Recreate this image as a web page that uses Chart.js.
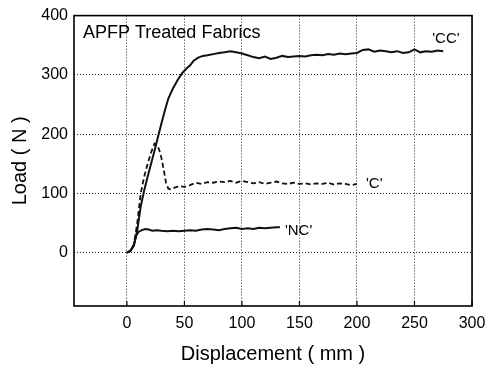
<!DOCTYPE html>
<html>
<head>
<meta charset="utf-8">
<script src="https://cdn.jsdelivr.net/npm/chart.js@4/dist/chart.umd.min.js"></script>
<style>
  html, body { margin: 0; padding: 0; background: #fff; }
  #wrap { width: 494px; height: 367px; }
</style>
</head>
<body>
<div id="wrap"><canvas id="chart"></canvas></div>
<script>
// displacement (mm) / load (N)
const ccX = [0, 3, 6, 9, 12, 15, 18, 21, 24, 27, 30, 33, 36, 40, 44, 48, 52, 55, 58, 62, 66, 70, 75, 80, 85, 90, 95, 100, 105, 110, 115, 120, 125, 130, 135, 140, 145, 150, 155, 160, 165, 170, 175, 180, 185, 190, 195, 200, 205, 210, 215, 220, 225, 230, 235, 240, 245, 250, 255, 260, 265, 270, 275];
const ccY = [0, 3, 12, 38, 78, 105, 128, 150, 172, 195, 218, 240, 260, 277, 291, 303, 311, 316, 324, 329, 332, 333, 335, 337, 338, 340, 338, 336, 333, 330, 328, 331, 327, 329, 332, 330, 331, 332, 331, 333, 334, 333, 335, 334, 336, 335, 336, 337, 342, 343, 339, 341, 340, 338, 340, 337, 338, 343, 338, 340, 339, 341, 340];

const cX = [0, 3, 6, 9, 12, 15, 18, 21, 24, 26, 28, 30, 32, 34, 36, 38, 42, 46, 50, 55, 60, 65, 70, 75, 80, 85, 90, 95, 100, 105, 110, 115, 120, 125, 130, 135, 140, 145, 150, 155, 160, 165, 170, 175, 180, 185, 190, 195, 200];
const cY = [0, 3, 14, 50, 100, 128, 150, 169, 184, 182, 174, 160, 140, 118, 108, 107, 110, 112, 111, 114, 118, 116, 119, 118, 120, 119, 121, 118, 121, 119, 117, 119, 116, 118, 120, 117, 116, 118, 116, 117, 115, 117, 116, 118, 115, 117, 116, 114, 116];

const ncX = [0, 3, 6, 8, 10, 13, 16, 19, 22, 26, 30, 35, 40, 45, 50, 55, 60, 65, 70, 75, 80, 85, 90, 95, 100, 105, 110, 115, 120, 125, 130, 133];
const ncY = [0, 3, 12, 28, 35, 38, 40, 39, 37, 38, 37, 36, 37, 36, 37, 38, 37, 39, 40, 39, 38, 40, 41, 42, 40, 41, 40, 42, 41, 42, 43, 43];

const xTicks = [0, 50, 100, 150, 200, 250, 300];
const yTicks = [0, 100, 200, 300, 400];
const curveNames = ["'CC'", "'C'", "'NC'"];

const FONT = '"Liberation Sans", Arial, sans-serif';

function pts(xs, ys) {
  return xs.map(function (x, i) { return { x: x, y: ys[i] }; });
}

const tags = [
  { ds: 0, dx: -11, dy: -12 },
  { ds: 1, dx: 9, dy: 0 },
  { ds: 2, dx: 5, dy: 4 }
];

const framePlugin = {
  id: 'frame',
  afterDraw(chart) {
    const { ctx, chartArea: a, scales } = chart;
    ctx.save();
    ctx.strokeStyle = '#000';
    ctx.lineWidth = 1.6;
    ctx.strokeRect(a.left, a.top, a.right - a.left, a.bottom - a.top);
    // small inside ticks along the bottom
    ctx.lineWidth = 1.2;
    xTicks.forEach(function (v) {
      const px = scales.x.getPixelForValue(v);
      ctx.beginPath();
      ctx.moveTo(px, a.bottom);
      ctx.lineTo(px, a.bottom - 5);
      ctx.stroke();
    });
    ctx.fillStyle = '#000';
    ctx.font = '18px ' + FONT;
    ctx.textBaseline = 'middle';
    ctx.textAlign = 'left';
    ctx.fillText('APFP Treated Fabrics', a.left + 9, a.top + 17);
    ctx.font = '15px ' + FONT;
    tags.forEach(function (t) {
      const meta = chart.getDatasetMeta(t.ds);
      const last = meta.data[meta.data.length - 1];
      ctx.fillText(curveNames[t.ds], last.x + t.dx, last.y + t.dy);
    });
    ctx.restore();
  }
};

new Chart(document.getElementById('chart'), {
  type: 'scatter',
  data: {
    datasets: [
      { label: curveNames[0], data: pts(ccX, ccY), showLine: true, borderColor: '#111', borderWidth: 2, pointRadius: 0, tension: 0 },
      { label: curveNames[1], data: pts(cX, cY), showLine: true, borderColor: '#111', borderWidth: 1.8, borderDash: [5, 3], pointRadius: 0, tension: 0 },
      { label: curveNames[2], data: pts(ncX, ncY), showLine: true, borderColor: '#111', borderWidth: 2, pointRadius: 0, tension: 0 }
    ]
  },
  options: {
    responsive: true,
    maintainAspectRatio: false,
    animation: false,
    layout: { padding: { left: 0, right: 22, top: 14, bottom: 0 } },
    plugins: { legend: { display: false }, tooltip: { enabled: false } },
    scales: {
      x: {
        type: 'linear', min: -46, max: 300,
        afterBuildTicks: function (s) { s.ticks = xTicks.map(function (v) { return { value: v }; }); },
        afterFit: function (s) { s.height = 61; },
        grid: { color: '#222', lineWidth: 1, drawTicks: false, tickBorderDash: [1, 2] },
        border: { display: false, dash: [1, 2] },
        ticks: { color: '#000', padding: 8, maxRotation: 0, font: { family: FONT, size: 16 } },
        title: { display: true, text: 'Displacement ( mm )', color: '#000', padding: { top: 0, bottom: 1 }, font: { family: FONT, size: 20 } }
      },
      y: {
        type: 'linear', min: -90, max: 400,
        afterBuildTicks: function (s) { s.ticks = yTicks.map(function (v) { return { value: v }; }); },
        afterFit: function (s) { s.width = 74; },
        grid: { color: '#222', lineWidth: 1, drawTicks: false },
        border: { display: false, dash: [1, 2] },
        ticks: { color: '#000', padding: 6, font: { family: FONT, size: 16 } },
        title: { display: true, text: 'Load ( N )', color: '#000', padding: { top: 8, bottom: 0 }, font: { family: FONT, size: 20 } }
      }
    }
  },
  plugins: [framePlugin, {
    id: 'dotGrid',
    beforeDatasetsDraw(chart) {}
  }]
});
</script>
</body>
</html>
